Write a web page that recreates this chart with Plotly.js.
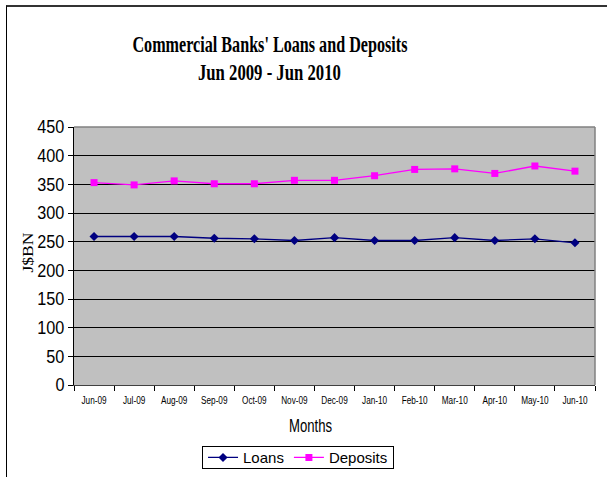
<!DOCTYPE html>
<html>
<head>
<meta charset="utf-8">
<script src="https://cdn.plot.ly/plotly-3.0.1.min.js"></script>
<style>
html,body{margin:0;padding:0;background:#fff;}
#wrap{position:relative;width:607px;height:477px;overflow:hidden;}
#chart{width:607px;height:477px;}
#frame{position:absolute;left:6px;top:5px;width:620px;height:500px;border:1px solid #000;border-top:2px solid #333;pointer-events:none;box-sizing:border-box;}
</style>
</head>
<body>
<div id="wrap"><div id="chart"></div><div id="frame"></div></div>
<script>
const months = ["Jun-09","Jul-09","Aug-09","Sep-09","Oct-09","Nov-09","Dec-09","Jan-10","Feb-10","Mar-10","Apr-10","May-10","Jun-10"];
const loans = [259, 259, 259, 256, 255, 252, 257, 252, 252, 257, 252, 255, 248];
const deposits = [353, 349, 356, 351, 351, 357, 357, 365, 376, 377, 369, 382, 373];
const yTicks = [0,50,100,150,200,250,300,350,400,450];
const titleLines = ["Commercial Banks' Loans and Deposits", "Jun 2009 - Jun 2010"];

const SANS = "Liberation Sans, Arial, sans-serif";
const SERIF = "Liberation Serif, Times New Roman, serif";

const traces = [
  {x: months, y: loans, name: "Loans", type: "scatter", mode: "lines+markers",
   line: {color: "#000080", width: 1.3}, marker: {symbol: "diamond", size: 7, color: "#000080"}},
  {x: months, y: deposits, name: "Deposits", type: "scatter", mode: "lines+markers",
   line: {color: "#FF00FF", width: 1.3}, marker: {symbol: "square", size: 7, color: "#FF00FF"}}
];

const layout = {
  width: 607, height: 477,
  margin: {l: 73.5, r: 11.5, t: 127.3, b: 92.3, autoexpand: false},
  paper_bgcolor: "#fff",
  plot_bgcolor: "#C0C0C0",
  showlegend: true,
  xaxis: {
    type: "category",
    tickson: "boundaries",
    ticks: "outside", ticklen: 5, tickcolor: "#000",
    tickfont: {family: SANS, size: 10, color: "#000"},
    tickangle: 0,
    ticklabelstandoff: 6,
    showgrid: false,
    showline: true, linecolor: "#404040", linewidth: 1,
    range: [-0.5, 12.5],
    automargin: false,
    fixedrange: true
  },
  yaxis: {
    range: [0, 450],
    tickvals: yTicks,
    ticktext: yTicks.map(String),
    ticks: "outside", ticklen: 5, tickcolor: "#000",
    tickfont: {family: SANS, size: 18, color: "#000"},
    showgrid: true, gridcolor: "#000", gridwidth: 1,
    showline: true, linecolor: "#000", linewidth: 1,
    zeroline: false,
    automargin: false,
    fixedrange: true
  },
  shapes: [
    {type: "line", xref: "paper", yref: "paper", x0: 0, x1: 1, y0: 1, y1: 1, line: {color: "#808080", width: 1.5}},
    {type: "line", xref: "paper", yref: "paper", x0: 1, x1: 1, y0: 0, y1: 1, line: {color: "#808080", width: 1.5}}
  ],
  annotations: [
    {text: "<b>" + titleLines[0] + "</b>", xref: "paper", yref: "paper", x: 0.376, y: 1.320, showarrow: false,
     xanchor: "center", yanchor: "middle",
     font: {family: SERIF, size: 23, color: "#000"}},
    {text: "<b>" + titleLines[1] + "</b>", xref: "paper", yref: "paper", x: 0.376, y: 1.211, showarrow: false,
     xanchor: "center", yanchor: "middle",
     font: {family: SERIF, size: 23, color: "#000"}},
    {text: "Months", xref: "paper", yref: "paper", x: 0.453, y: -0.16, showarrow: false,
     xanchor: "center", yanchor: "middle",
     font: {family: SANS, size: 18, color: "#000"}},
    {text: "J$BN", xref: "paper", yref: "paper", x: -0.0871, y: 0.512, showarrow: false,
     textangle: -90, xanchor: "center", yanchor: "middle",
     font: {family: SERIF, size: 14, color: "#000"}}
  ],
  legend: {
    orientation: "h",
    x: 0.43, xanchor: "center",
    y: -0.214, yanchor: "top",
    bordercolor: "#000", borderwidth: 1, bgcolor: "#fff",
    font: {family: SANS, size: 15, color: "#000"},
    itemwidth: 30, tracegroupgap: 0
  }
};

function fit(el, target) {
  const w = el.getComputedTextLength();
  if (!w) return;
  el.setAttribute("textLength", target);
  el.setAttribute("lengthAdjust", "spacingAndGlyphs");
}
function squeezeAll(nodes, ratio) {
  nodes.forEach(el => fit(el, el.getComputedTextLength() * ratio));
}

Plotly.newPlot("chart", traces, layout, {displayModeBar: false, staticPlot: true}).then(gd => {
  squeezeAll(gd.querySelectorAll(".xtick text"), 0.82);
  squeezeAll(gd.querySelectorAll(".ytick text"), 0.9);
  const ann = gd.querySelectorAll(".annotation-text");
  // title lines and axis title widths as measured on the reference
  if (ann[0]) fit(ann[0], 275);
  if (ann[1]) fit(ann[1], 143);
  if (ann[2]) fit(ann[2], 43);
  if (ann[3]) fit(ann[3], 40);
  // make the legend frame as compact as in the reference
  const bg = gd.querySelector(".legend .bg");
  if (bg) {
    const h = parseFloat(bg.getAttribute("height")) || 0;
    const y0 = parseFloat(bg.getAttribute("y")) || 0;
    const target = 22;
    if (h > target) {
      bg.setAttribute("y", y0 + (h - target) / 2);
      bg.setAttribute("height", target);
    }
  }
});
</script>
</body>
</html>
